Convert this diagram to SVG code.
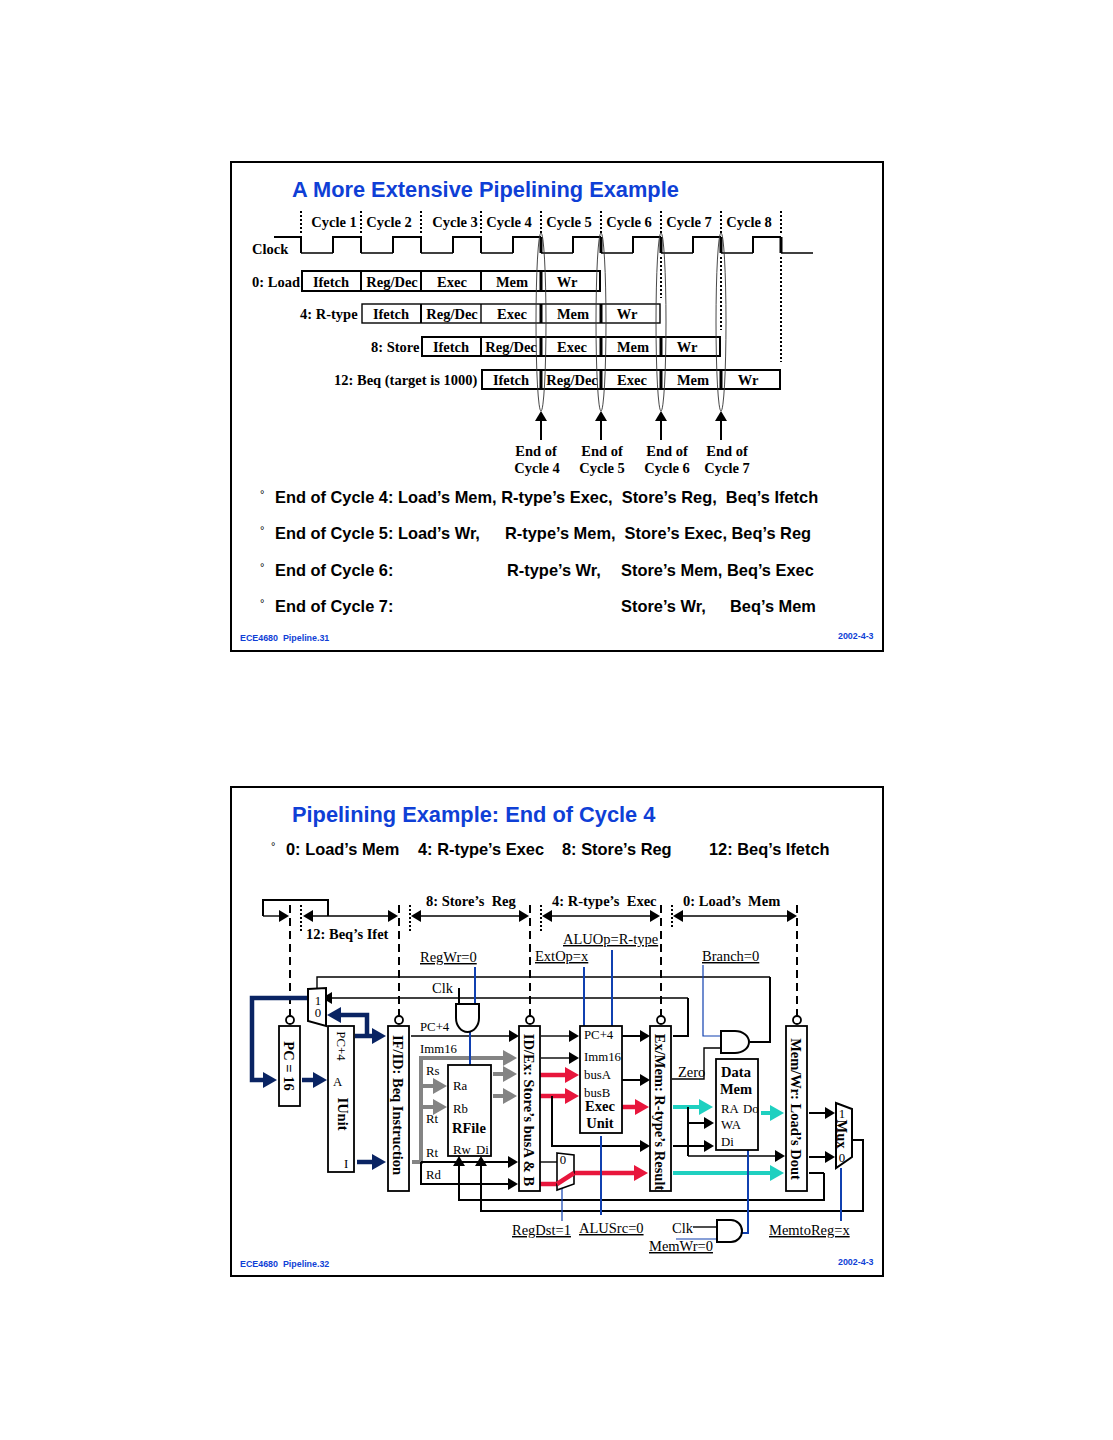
<svg xmlns="http://www.w3.org/2000/svg" width="1113" height="1440" viewBox="0 0 1113 1440">
<style>
text{font-family:"Liberation Serif","Times New Roman",serif;fill:#000;white-space:pre}
.b{font-weight:700;font-size:14.5px}
.c{text-anchor:middle}
.r{font-size:12.8px}
.u{font-size:14.5px;text-decoration:underline}
.p{font-size:14.5px}
.t{font-family:"Liberation Sans",Arial,sans-serif;font-weight:700;font-size:21.8px;fill:#0f3fd6}
.h{font-family:"Liberation Sans",Arial,sans-serif;font-weight:700;font-size:16.4px}
.f{font-family:"Liberation Sans",Arial,sans-serif;font-weight:700;font-size:8.9px;fill:#0f3fd6}
.deg{font-family:"Liberation Sans",Arial,sans-serif;font-size:11px}
.box{fill:#fff;stroke:#000;stroke-width:2}
.fr{fill:#fff;stroke:#000;stroke-width:1.8}
.l{fill:none;stroke:#000;stroke-width:1.4}
.m{fill:none;stroke:#000;stroke-width:2}
.k{fill:none;stroke:#000;stroke-width:3}
.dot{fill:none;stroke:#000;stroke-width:2;stroke-dasharray:2 2}
.dash{fill:none;stroke:#000;stroke-width:2;stroke-dasharray:8 5}
.el{fill:none;stroke:#333;stroke-width:.9}
.n{fill:none;stroke:#0a2463;stroke-width:4.5}
.g{fill:none;stroke:#848484;stroke-width:4}
.rd{fill:none;stroke:#e8163c;stroke-width:4.5}
.te{fill:none;stroke:#1fd0c0;stroke-width:4}
.bl{fill:none;stroke:#1040b0;stroke-width:2}
.bt{fill:none;stroke:#1040b0;stroke-width:1.2}
</style>
<defs>
<marker id="ak" markerUnits="userSpaceOnUse" markerWidth="11" markerHeight="12" refX="0" refY="6" orient="auto"><path d="M0 0L10 6L0 12z" fill="#000"/></marker>
<marker id="an" markerUnits="userSpaceOnUse" markerWidth="15" markerHeight="16" refX="0" refY="8" orient="auto"><path d="M0 0L14 8L0 16z" fill="#0a2463"/></marker>
<marker id="ag" markerUnits="userSpaceOnUse" markerWidth="15" markerHeight="16" refX="0" refY="8" orient="auto"><path d="M0 0L14 8L0 16z" fill="#848484"/></marker>
<marker id="ar" markerUnits="userSpaceOnUse" markerWidth="15" markerHeight="16" refX="0" refY="8" orient="auto"><path d="M0 0L14 8L0 16z" fill="#e8163c"/></marker>
<marker id="at" markerUnits="userSpaceOnUse" markerWidth="15" markerHeight="16" refX="0" refY="8" orient="auto"><path d="M0 0L14 8L0 16z" fill="#1fd0c0"/></marker>
</defs>

<g id="slide31">
<rect x="231" y="162" width="652" height="489" fill="#fff" stroke="#000" stroke-width="2"/>
<text class="t" x="292" y="197">A More Extensive Pipelining Example</text>
<text class="f" x="240" y="641">ECE4680  Pipeline.31</text>
<text class="f" x="838" y="639">2002-4-3</text>
</g>

<g id="cycles">
<path class="dot" d="M301 211V235M361 211V235M421 211V235M481 211V235M541 211V235M601 211V235M661 211V235M721 211V235M781 211V235M661 257V298M721 257V330M781 257V362"/>
<text class="b c" x="334" y="227">Cycle 1</text><text class="b c" x="389" y="227">Cycle 2</text><text class="b c" x="455" y="227">Cycle 3</text><text class="b c" x="509" y="227">Cycle 4</text><text class="b c" x="569" y="227">Cycle 5</text><text class="b c" x="629" y="227">Cycle 6</text><text class="b c" x="689" y="227">Cycle 7</text><text class="b c" x="749" y="227">Cycle 8</text>
</g>

<g id="clock">
<text class="b" x="252" y="254">Clock</text>
<path class="m" d="M274 237H301V253M333 253V237H361V253M393 253V237H421V253M453 253V237H481V253M513 253V237H541M573 253V237H601M633 253V237H661M693 253V237H721M753 253V237H781"/>
<path class="k" d="M541 237V253M601 237V253M661 237V253M721 237V253M781 237V253"/>
<path class="l" d="M301 253H333M361 253H393M421 253H453M481 253H513M541 253H573M601 253H633M661 253H693M721 253H753M781 253H813"/>
</g>

<g id="load">
<text class="b" x="252" y="287">0: Load</text>
<rect class="box" x="302" y="271" width="298" height="20"/>
<path class="m" d="M361 271V291M421 271V291M481 271V291"/><path class="k" d="M541 271V291"/>
<text class="b c" x="331" y="287">Ifetch</text><text class="b c" x="392" y="287">Reg/Dec</text><text class="b c" x="452" y="287">Exec</text><text class="b c" x="512" y="287">Mem</text><text class="b c" x="567" y="287">Wr</text>
</g>
<g id="rtype">
<text class="b" x="300" y="319">4: R-type</text>
<rect x="362" y="304" width="298" height="19" fill="#fff" stroke="#000" stroke-width="1.4"/>
<path class="m" d="M421 304V323"/><path class="l" d="M481 304V323"/><path class="k" d="M541 304V323M601 304V323"/>
<text class="b c" x="391" y="319">Ifetch</text><text class="b c" x="452" y="319">Reg/Dec</text><text class="b c" x="512" y="319">Exec</text><text class="b c" x="573" y="319">Mem</text><text class="b c" x="627" y="319">Wr</text>
</g>
<g id="store">
<text class="b" x="371" y="352">8: Store</text>
<rect class="box" x="422" y="337" width="298" height="19"/>
<path class="m" d="M481 337V356"/><path class="k" d="M541 337V356M601 337V356M661 337V356"/>
<text class="b c" x="451" y="352">Ifetch</text><text class="b c" x="511" y="352">Reg/Dec</text><text class="b c" x="572" y="352">Exec</text><text class="b c" x="633" y="352">Mem</text><text class="b c" x="687" y="352">Wr</text>
</g>
<g id="beq">
<text class="b" x="334" y="385">12: Beq (target is 1000)</text>
<rect class="box" x="482" y="370" width="298" height="19"/>
<path class="k" d="M541 370V389M601 370V389M661 370V389M721 370V389"/>
<text class="b c" x="511" y="385">Ifetch</text><text class="b c" x="572" y="385">Reg/Dec</text><text class="b c" x="632" y="385">Exec</text><text class="b c" x="693" y="385">Mem</text><text class="b c" x="748" y="385">Wr</text>
</g>

<g id="end-markers">
<ellipse class="el" cx="541" cy="322" rx="5" ry="89"/><ellipse class="el" cx="601" cy="322" rx="5" ry="89"/><ellipse class="el" cx="661" cy="322" rx="5" ry="89"/><ellipse class="el" cx="721" cy="322" rx="5" ry="89"/>
<path class="m" marker-end="url(#ak)" d="M541 440V421"/><path class="m" marker-end="url(#ak)" d="M601 440V421"/><path class="m" marker-end="url(#ak)" d="M661 440V421"/><path class="m" marker-end="url(#ak)" d="M721 440V421"/>
<text class="b c" x="536" y="456">End of</text><text class="b c" x="537" y="473">Cycle 4</text>
<text class="b c" x="602" y="456">End of</text><text class="b c" x="602" y="473">Cycle 5</text>
<text class="b c" x="667" y="456">End of</text><text class="b c" x="667" y="473">Cycle 6</text>
<text class="b c" x="727" y="456">End of</text><text class="b c" x="727" y="473">Cycle 7</text>
</g>

<g id="bullets31">
<text class="deg" x="260" y="498">°</text><text class="h" x="275" y="503">End of Cycle 4: Load’s Mem, R-type’s Exec,  Store’s Reg,  Beq’s Ifetch</text>
<text class="deg" x="260" y="534">°</text><text class="h" x="275" y="539">End of Cycle 5: Load’s Wr,</text><text class="h" x="505" y="539">R-type’s Mem,  Store’s Exec, Beq’s Reg</text>
<text class="deg" x="260" y="571">°</text><text class="h" x="275" y="576">End of Cycle 6:</text><text class="h" x="507" y="576">R-type’s Wr,</text><text class="h" x="621" y="576">Store’s Mem, Beq’s Exec</text>
<text class="deg" x="260" y="607">°</text><text class="h" x="275" y="612">End of Cycle 7:</text><text class="h" x="621" y="612">Store’s Wr,</text><text class="h" x="730" y="612">Beq’s Mem</text>
</g>

<g id="slide32">
<rect x="231" y="787" width="652" height="489" fill="#fff" stroke="#000" stroke-width="2"/>
<text class="t" x="292" y="822">Pipelining Example: End of Cycle 4</text>
<text class="deg" x="271" y="850">°</text><text class="h" x="286" y="855">0: Load’s Mem</text><text class="h" x="418" y="855">4: R-type’s Exec</text><text class="h" x="562" y="855">8: Store’s Reg</text><text class="h" x="709" y="855">12: Beq’s Ifetch</text>
<text class="f" x="240" y="1267">ECE4680  Pipeline.32</text>
<text class="f" x="838" y="1265">2002-4-3</text>
</g>

<g id="zero-label"><text class="p" x="678" y="1077">Zero</text></g>

<g id="connectors">
<path class="dash" d="M290 905V1016M399 905V1016M530 905V1016M661 905V1016M797 905V1016"/>
<path class="dot" d="M301 905V933M410 905V933M541 905V933M672 905V928"/>
<path class="m" d="M263 916V900H328V916"/>
<path class="l" marker-end="url(#ak)" d="M263 916H279"/>
<path d="M303 916L313 910V922z"/><path class="l" marker-end="url(#ak)" d="M313 916H388"/>
<path d="M411 916L421 910V922z"/><path class="l" marker-end="url(#ak)" d="M421 916H519"/>
<path d="M542 916L552 910V922z"/><path class="l" marker-end="url(#ak)" d="M552 916H650"/>
<path d="M673 916L683 910V922z"/><path class="l" marker-end="url(#ak)" d="M683 916H787"/>

<path class="l" d="M317 990V977H770"/><path class="m" d="M770 977V1042H750"/>
<path class="l" d="M332 998H688"/><path d="M322 998L332 992V1004z"/><path class="m" d="M688 998V1036H673"/>

<path class="n" d="M308 998H252V1080H263" marker-end="url(#an)"/>
<path class="n" d="M302 1080H313" marker-end="url(#an)"/>
<path class="n" d="M357 1162H372" marker-end="url(#an)"/>
<path class="n" d="M355 1036H372" marker-end="url(#an)"/>
<path class="n" d="M367 1036V1015H341" marker-end="url(#an)"/>

<path class="l" d="M411 1036H509" marker-end="url(#ak)"/>
<path class="g" d="M412 1162H421V1058H503" marker-end="url(#ag)"/>
<path class="g" d="M421 1086H433" marker-end="url(#ag)"/>
<path class="g" d="M421 1107H433" marker-end="url(#ag)"/>
<path class="g" d="M493 1074H503" marker-end="url(#ag)"/>
<path class="g" d="M493 1096H503" marker-end="url(#ag)"/>
<path class="m" d="M421 1162H508" marker-end="url(#ak)"/>
<path class="m" d="M421 1162V1184H508" marker-end="url(#ak)"/>
<path class="m" d="M824 1173H809"/>
<path class="m" d="M824 1173V1200H459V1166" marker-end="url(#ak)"/>
<path class="m" d="M852 1140H863V1211H481V1166" marker-end="url(#ak)"/>

<path class="l" d="M541 1036H569" marker-end="url(#ak)"/>
<path class="l" d="M541 1058H569" marker-end="url(#ak)"/>
<path class="m" d="M622 1036H640" marker-end="url(#ak)"/>
<path class="m" d="M622 1080H640" marker-end="url(#ak)"/>
<path class="rd" d="M540 1075H565" marker-end="url(#ar)"/>
<path class="rd" d="M540 1096H565" marker-end="url(#ar)"/>
<path class="rd" d="M621 1107H635" marker-end="url(#ar)"/>
<path class="m" d="M552 1096V1146H640" marker-end="url(#ak)"/>
<path class="l" d="M540 1162H557"/>
<path class="rd" d="M540 1184H557L574 1173H634" marker-end="url(#ar)"/>

<path class="te" d="M673 1107H699" marker-end="url(#at)"/>
<path class="te" d="M673 1173H770" marker-end="url(#at)"/>
<path class="te" d="M761 1113H770" marker-end="url(#at)"/>
<path class="m" d="M688 1107V1156"/><path class="l" d="M688 1156H775" marker-end="url(#ak)"/>
<path class="m" d="M688 1123H704" marker-end="url(#ak)"/>
<path class="m" d="M673 1146H704" marker-end="url(#ak)"/>
<path class="m" d="M809 1113H825" marker-end="url(#ak)"/>
<path class="m" d="M809 1157H825" marker-end="url(#ak)"/>
<path class="l" d="M672 1079H704V1048H721"/>

<path class="bl" d="M475 967V1004"/>
<path class="bl" d="M470 1032V1065"/>
<path class="bl" d="M584 967V1026"/>
<path class="bl" d="M612 950V1026"/>
<path class="bt" d="M703 965V1036H721"/>
<path class="bl" d="M601 1136V1215"/>
<path class="bt" d="M562 1186V1221"/>
<path class="bl" d="M841 1168V1221"/>
<path class="bl" d="M748 1150V1233H742"/>
<path class="bt" d="M676 1239H717"/>
<path class="l" d="M693 1227H717"/>
<path class="m" d="M459 988V1004"/>
<circle cx="290" cy="1020" r="4" fill="#fff" stroke="#000" stroke-width="1.8"/>
<circle cx="399" cy="1020" r="4" fill="#fff" stroke="#000" stroke-width="1.8"/>
<circle cx="530" cy="1020" r="4" fill="#fff" stroke="#000" stroke-width="1.8"/>
<circle cx="661" cy="1020" r="4" fill="#fff" stroke="#000" stroke-width="1.8"/>
<circle cx="797" cy="1020" r="4" fill="#fff" stroke="#000" stroke-width="1.8"/>
</g>

<g id="stage-labels">
<text class="b" x="426" y="906">8: Store’s  Reg</text>
<text class="b" x="552" y="906">4: R-type’s  Exec</text>
<text class="b" x="683" y="906">0: Load’s  Mem</text>
<text class="b" x="306" y="939">12: Beq’s Ifet</text>
<text class="u" x="420" y="962">RegWr=0</text>
<text class="u" x="535" y="961">ExtOp=x</text>
<text class="u" x="563" y="944">ALUOp=R-type</text>
<text class="u" x="702" y="961">Branch=0</text>
<text class="p" x="432" y="993">Clk</text>
<text class="u" x="512" y="1235">RegDst=1</text>
<text class="u" x="579" y="1233">ALUSrc=0</text>
<text class="p" x="672" y="1233">Clk</text>
<text class="u" x="649" y="1251">MemWr=0</text>
<text class="u" x="769" y="1235">MemtoReg=x</text>
<text class="r" x="420" y="1031">PC+4</text>
<text class="r" x="420" y="1053">Imm16</text>
<text class="r" x="426" y="1075">Rs</text>
<text class="r" x="426" y="1123">Rt</text>
<text class="r" x="426" y="1157">Rt</text>
<text class="r" x="426" y="1179">Rd</text>
</g>

<g id="pc-mux"><path d="M308 989L326 988V1026L308 1021z" fill="#fff" stroke="#000" stroke-width="2"/><text class="r c" x="318" y="1005">1</text><text class="r c" x="318" y="1017">0</text></g>
<g id="pc"><rect class="fr" x="279" y="1026" width="21" height="80"/><text class="b c" transform="translate(284,1066) rotate(90)">PC = 16</text></g>
<g id="iunit"><rect class="fr" x="328" y="1026" width="26" height="146"/><text class="r c" transform="translate(337,1046) rotate(90)">PC+4</text><text class="r" x="333" y="1086">A</text><text class="b c" transform="translate(338,1114) rotate(90)">IUnit</text><text class="r" x="344" y="1168">I</text></g>
<g id="if-id"><rect class="fr" x="388" y="1026" width="21" height="165"/><text class="b c" transform="translate(392.500,1105) rotate(90)">IF/ID: Beq Instruction</text></g>
<g id="rfile"><rect class="fr" x="448" y="1065" width="43" height="91"/><text class="r" x="453" y="1090">Ra</text><text class="r" x="453" y="1113">Rb</text><text class="b" x="452" y="1133">RFile</text><text class="r" x="453" y="1154">Rw</text><text class="r" x="476" y="1154">Di</text></g>
<g id="id-ex"><rect class="fr" x="519" y="1026" width="21" height="165"/><text class="b c" transform="translate(523.500,1110) rotate(90)">ID/Ex: Store’s busA &amp; B</text></g>
<g id="exec"><rect class="fr" x="580" y="1026" width="42" height="107"/><text class="r" x="584" y="1039">PC+4</text><text class="r" x="584" y="1061">Imm16</text><text class="r" x="584" y="1079">busA</text><text class="r" x="584" y="1097">busB</text><text class="b c" x="600" y="1111">Exec</text><text class="b c" x="600" y="1128">Unit</text></g>
<g id="reg-mux"><path d="M557 1153L574 1155V1184L557 1190z" fill="#fff" stroke="#000" stroke-width="1.6"/><text class="r c" x="563" y="1164">0</text><path class="rd" d="M557 1184L574 1173"/></g>
<g id="ex-mem"><rect class="fr" x="650" y="1026" width="21" height="165"/><text class="b c" transform="translate(654.500,1112) rotate(90)">Ex/Mem: R-type’s Result</text></g>
<g id="branch-and"><path d="M721 1031H735A14 11 0 0 1 735 1053H721z" fill="#fff" stroke="#000" stroke-width="2"/></g>
<g id="data-mem"><rect class="fr" x="716" y="1059" width="42" height="91"/><text class="b c" x="736" y="1077">Data</text><text class="b c" x="736" y="1094">Mem</text><text class="r" x="721" y="1113">RA</text><text class="r" x="743" y="1113">Do</text><text class="r" x="721" y="1129">WA</text><text class="r" x="721" y="1146">Di</text></g>
<g id="mem-wr"><rect class="fr" x="786" y="1026" width="21" height="165"/><text class="b c" transform="translate(790.500,1109) rotate(90)">Mem/Wr: Load’s Dout</text></g>
<g id="out-mux"><path d="M836 1103L852 1109V1157L836 1168z" fill="#fff" stroke="#000" stroke-width="2"/><text class="r c" x="842" y="1118">1</text><text class="b c" transform="translate(836.500,1134) rotate(90)">Mux</text><text class="r c" x="842" y="1162">0</text></g>
<g id="regwr-and"><path d="M456 1004H479V1018A11.500 14 0 0 1 456 1018z" fill="#fff" stroke="#000" stroke-width="2"/></g>
<g id="memwr-and"><path d="M717 1220H731A11 11 0 0 1 731 1242H717z" fill="#fff" stroke="#000" stroke-width="2"/></g>
</svg>
